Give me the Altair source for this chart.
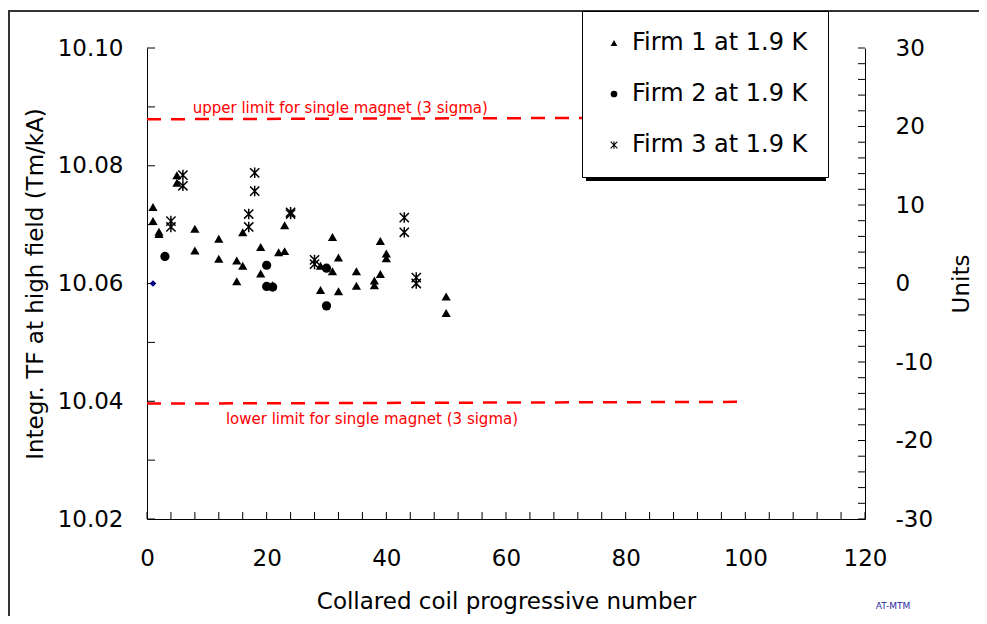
import altair as alt
import pandas as pd

FONT = "DejaVu Sans"

# ---- data ----
firm1_x = [1, 1, 2, 2, 5, 5, 8, 8, 12, 12, 15, 16, 15, 16, 19, 19, 22, 23, 23, 21,
           31, 29, 31, 29, 32, 32, 35, 35, 39, 40, 40, 39, 38, 38, 50, 50]
firm1_y = [10.0730, 10.0706, 10.0688, 10.0684, 10.0784, 10.0771, 10.0693, 10.0656,
           10.0676, 10.0642, 10.0639, 10.0630, 10.0604, 10.0687, 10.0662, 10.0617,
           10.0653, 10.0655, 10.0699, 10.0597, 10.0679, 10.0589, 10.0621, 10.0630,
           10.0587, 10.0644, 10.0621, 10.0596, 10.0672, 10.0651, 10.0643, 10.0616,
           10.0605, 10.0597, 10.0578, 10.0550]
firm2_x = [3, 20, 20, 21, 30, 30]
firm2_y = [10.0646, 10.0631, 10.0595, 10.0594, 10.0562, 10.0626]
firm3_x = [6, 6, 4, 4, 18, 18, 17, 17, 24, 24, 28, 28, 43, 43, 45, 45]
firm3_y = [10.0784, 10.0766, 10.0706, 10.0696, 10.0788, 10.0757, 10.0718, 10.0696,
           10.0721, 10.0718, 10.0640, 10.0633, 10.0712, 10.0687, 10.0610, 10.0600]
series_names = ["Firm 1 at 1.9 K", "Firm 2 at 1.9 K", "Firm 3 at 1.9 K"]

ref_x = [1]
ref_units = [0]

limit_x0 = [0, 0]
limit_x1 = [100, 100]
limit_y0 = [10.0879, 10.0396]
limit_y1 = [10.0882, 10.0399]
limit_text = ["upper limit for single magnet (3 sigma)", "lower limit for single magnet (3 sigma)"]
limit_text_x = [32.3, 37.6]
limit_text_y = [10.0898, 10.0370]

x_labels = [0, 20, 40, 60, 80, 100, 120]
x_minor = list(range(0, 121, 4))
y_labels = [10.02, 10.04, 10.06, 10.08, 10.10]
y_minor = [10.02, 10.03, 10.04, 10.05, 10.06, 10.07, 10.08, 10.09, 10.10]
u_labels = [-30, -20, -10, 0, 10, 20, 30]
u_minor = list(range(-30, 31, 2))

W, H = 718, 471

# ---- tables ----
pts = pd.DataFrame({
    "x": firm1_x + firm2_x + firm3_x,
    "tf": firm1_y + firm2_y + firm3_y,
    "firm": [series_names[0]] * len(firm1_x) + [series_names[1]] * len(firm2_x)
            + [series_names[2]] * len(firm3_x),
})
limits = pd.DataFrame({"x0": limit_x0, "x1": limit_x1, "y0": limit_y0, "y1": limit_y1})
ltext = pd.DataFrame({"t": limit_text, "x": limit_text_x, "y": limit_text_y})
ref = pd.DataFrame({"x": ref_x, "u": ref_units})

xscale = alt.Scale(domain=[0, 120], nice=False, zero=False)
yscale = alt.Scale(domain=[10.02, 10.10], nice=False, zero=False)
uscale = alt.Scale(domain=[-30, 30], nice=False, zero=False)

x_axis = alt.Axis(values=x_labels, title="Collared coil progressive number", tickSize=0,
                  labelPadding=28, titlePadding=20, labelFlush=False,
                  domainColor="black", grid=False)
y_axis = alt.Axis(values=y_labels, format=".2f", title="Integr. TF at high field (Tm/kA)",
                  tickSize=0, labelPadding=24, titlePadding=10, labelFlush=False,
                  domainColor="black", grid=False)
u_axis = alt.Axis(orient="right", values=u_labels, title="Units", tickSize=0,
                  labelPadding=30, labelAlign="left", labelFlush=False,
                  labelExpr="toString(datum.value)",
                  titlePadding=18, titleAngle=270, titleBaseline="top",
                  domainColor="black", grid=False)

# asterisk marker built from three thin filled bars
star = ("M-0.16,-1.15L0.16,-1.15L0.16,1.15L-0.16,1.15Z"
        "M-0.887,-1.113L1.113,0.887L0.887,1.113L-1.113,-0.887Z"
        "M0.887,-1.113L1.113,-0.887L-0.887,1.113L-1.113,0.887Z")

frame = alt.Chart(pd.DataFrame({"a": [0]})).mark_rect(
    filled=False, stroke="#333333", strokeWidth=2
).encode(x=alt.value(-138), x2=alt.value(900), y=alt.value(-37), y2=alt.value(700))

shadow = alt.Chart(pd.DataFrame({"a": [0]})).mark_rect(color="black").encode(
    x=alt.value(439), x2=alt.value(679), y=alt.value(-33), y2=alt.value(133)
)

limit_lines = alt.Chart(limits).mark_rule(
    color="#FF0000", strokeWidth=2.5, strokeDash=[14, 10]
).encode(
    x=alt.X("x0:Q", scale=xscale, axis=x_axis), x2="x1:Q",
    y=alt.Y("y0:Q", scale=yscale, axis=y_axis), y2="y1:Q",
)

limit_labels = alt.Chart(ltext).mark_text(
    color="#FF0000", fontSize=15, font=FONT, align="center", baseline="middle"
).encode(
    x=alt.X("x:Q", scale=xscale, axis=x_axis),
    y=alt.Y("y:Q", scale=yscale, axis=y_axis),
    text="t:N",
)

left_ticks = alt.Chart(pd.DataFrame({"v": y_minor})).mark_rule(color="black").encode(
    y=alt.Y("v:Q", scale=yscale, axis=y_axis), x=alt.value(0), x2=alt.value(8)
)
bottom_ticks = alt.Chart(pd.DataFrame({"v": x_minor})).mark_rule(color="black").encode(
    x=alt.X("v:Q", scale=xscale, axis=x_axis), y=alt.value(H), y2=alt.value(H - 7)
)

points = alt.Chart(pts).mark_point(
    filled=True, fill="black", strokeWidth=0, opacity=1, fillOpacity=1, size=85
).encode(
    x=alt.X("x:Q", scale=xscale, axis=x_axis),
    y=alt.Y("tf:Q", scale=yscale, axis=y_axis),
    shape=alt.Shape("firm:N", title=None,
                    scale=alt.Scale(domain=series_names, range=["triangle-up", "circle", star]),
                    legend=alt.Legend(
                        orient="none", legendX=435, legendY=-37,
                        labelFontSize=24, labelFont=FONT, labelColor="black",
                        padding=20, rowPadding=27, symbolOffset=0, labelOffset=6,
                        strokeColor="black", fillColor="white", cornerRadius=0,
                        symbolSize=45, symbolFillColor="black", symbolStrokeWidth=0,
                        symbolOpacity=1, labelLimit=400)),
)

at_mtm = alt.Chart(pd.DataFrame({"t": ["AT-MTM"]})).mark_text(
    color="#2B2BA0", fontSize=9, font=FONT, align="center", baseline="middle"
).encode(text="t:N", x=alt.value(746), y=alt.value(558))

left_group = alt.layer(frame, shadow, limit_lines, limit_labels, left_ticks, bottom_ticks,
                       points, at_mtm)

right_ticks = alt.Chart(pd.DataFrame({"v": u_minor})).mark_rule(color="black").encode(
    y=alt.Y("v:Q", scale=uscale, axis=u_axis), x=alt.value(W - 7), x2=alt.value(W)
)
diamond = alt.Chart(ref).mark_point(
    shape="diamond", filled=True, color="#000080", size=45, opacity=1
).encode(
    x=alt.X("x:Q", scale=xscale, axis=x_axis),
    y=alt.Y("u:Q", scale=uscale, axis=u_axis),
)
right_group = alt.layer(right_ticks, diamond)

chart = alt.layer(left_group, right_group).resolve_scale(y="independent").properties(
    width=W, height=H,
    autosize=alt.AutoSizeParams(type="none"),
    padding={"left": 139, "top": 40, "right": 114, "bottom": 97},
    background="white",
).configure_axis(
    labelFont=FONT, titleFont=FONT, labelFontSize=23, titleFontSize=23,
    titleFontWeight="normal", labelColor="black", titleColor="black",
    domainWidth=1,
).configure_view(strokeOpacity=0)

chart.save("out.html", embed_options={"renderer": "svg", "actions": False})
